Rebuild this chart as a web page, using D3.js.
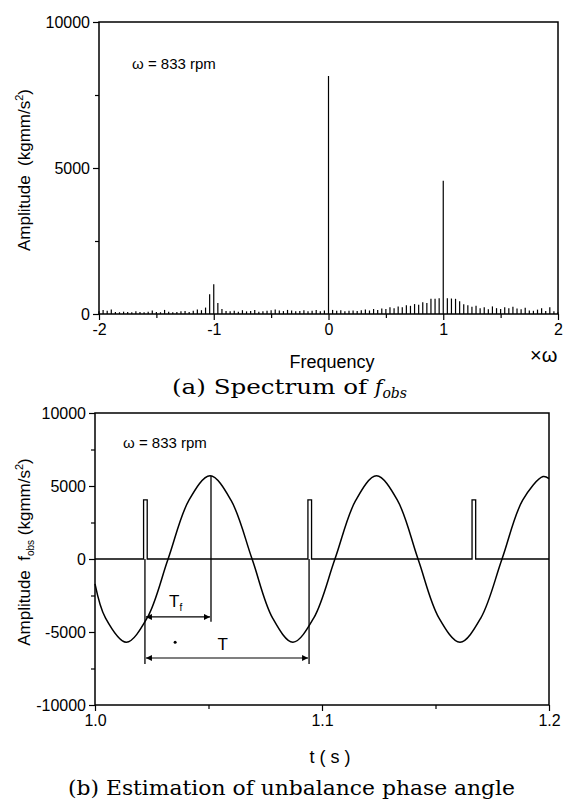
<!DOCTYPE html>
<html>
<head>
<meta charset="utf-8">
<script src="https://cdn.jsdelivr.net/npm/d3@7"></script>
<style>
body { margin: 0; background: #fff; }
text { font-family: "Liberation Sans", Arial, sans-serif; fill: #000; white-space: pre; }
.cap { font-family: "DejaVu Serif", "Liberation Serif", serif; }
</style>
</head>
<body>
<div id="fig"></div>
<script>
// (a) spectrum: bins are 1/28 of omega apart, from -2 to 2
var specStep = 1 / 28;
var specAmp = [
  90, 140, 110, 150, 70, 60, 80, 70, 60, 90, 70, 60, 80, 120,
  70, 60, 140, 80, 60, 70, 90, 100, 70, 110, 150, 130, 220, 680,
  1020, 380, 170, 100, 90, 110, 80, 130, 90, 100, 140, 80, 90, 110,
  130, 150, 120, 100, 140, 120, 90, 100, 130, 90, 110, 140, 90, 120,
  8150,
  140, 110, 130, 90, 110, 120, 100, 130, 150, 120, 170, 140, 190, 170,
  230, 200, 260, 230, 300, 280, 340, 320, 400, 380, 520, 520, 540, 4560,
  540, 530, 520, 440, 330, 300, 250, 280, 200, 230, 160, 260, 200, 170,
  230, 200, 250, 190, 160, 210, 120, 110, 150, 200, 100, 230, 90, 60
];
var freqTicks = [-2, -1, 0, 1, 2];
var freqMinor = [-1.5, -0.5, 0.5, 1.5];
var specYTicks = [0, 5000, 10000];
var specYMinor = [2500, 7500];

// (b) time trace
var sineT = [1.0000, 1.0046, 1.0138, 1.0230, 1.0322, 1.0414, 1.0507, 1.0599,
  1.0692, 1.0782, 1.0872, 1.0964, 1.1057, 1.1149, 1.1240, 1.1332, 1.1423,
  1.1515, 1.1608, 1.1700, 1.1793, 1.1884, 1.1974, 1.2000];
var sineV = [-1700, -4030, -5700, -4030, 0, 4030, 5700, 4030,
  0, -4030, -5700, -4030, 0, 4030, 5700, 4030, 0,
  -4030, -5700, -4030, 0, 4030, 5650, 5500];
var pulseStart = [1.0214, 1.0938, 1.1661];
var pulseEnd = [1.0230, 1.0954, 1.1677];
var pulseTop = 4050;
var markT = [1.0220, 1.0511, 1.0943];
var markTop = [0, 5700, 0];
var markBottom = [-7200, -4300, -7200];
var timeTicks = [1.0, 1.1, 1.2];
var timeMinor = [1.05, 1.15];
var ampTicks = [-10000, -5000, 0, 5000, 10000];
var ampMinor = [-7500, -2500, 2500, 7500];

var W = 563, H = 805;
var svg = d3.select('#fig').append('svg').attr('width', W).attr('height', H);

var defs = svg.append('defs');
['s', 'e'].forEach(function(k) {
  defs.append('marker').attr('id', 'arr' + k)
    .attr('viewBox', '0 0 10 10').attr('refX', k == 'e' ? 10 : 0).attr('refY', 5)
    .attr('markerWidth', 8).attr('markerHeight', 6).attr('orient', 'auto')
    .attr('markerUnits', 'userSpaceOnUse')
    .append('path')
    .attr('d', k == 'e' ? 'M0,0 L10,5 L0,10 z' : 'M10,0 L0,5 L10,10 z')
    .attr('fill', '#000');
});

// plain hyphen minus like the original print
var intFmt = d => String(Math.round(d));
var oneFmt = d => d.toFixed(1);

function styleAxis(g) {
  g.select('.domain').remove();
  g.selectAll('line').attr('stroke', '#000').attr('stroke-width', 1.2);
  g.selectAll('text').style('font-size', '16px').style('font-family', '"Liberation Sans", Arial, sans-serif');
}

// ---------- (a) spectrum ----------
var x1 = d3.scaleLinear().domain([-2, 2]).range([99, 558]);
var y1 = d3.scaleLinear().domain([0, 10000]).range([314, 22]);

var g1 = svg.append('g');
g1.selectAll('line.bar').data(specAmp).enter().append('line')
  .attr('class', 'bar')
  .attr('x1', (d, i) => x1(-2 + i * specStep))
  .attr('x2', (d, i) => x1(-2 + i * specStep))
  .attr('y1', y1(0))
  .attr('y2', d => y1(d))
  .attr('stroke', '#000').attr('stroke-width', 1.2);

g1.append('g').attr('transform', 'translate(0,' + y1(0) + ')')
  .call(d3.axisBottom(x1).tickValues(freqTicks).tickSize(6).tickPadding(4).tickFormat(intFmt))
  .call(styleAxis);
g1.append('g').attr('transform', 'translate(0,' + y1(0) + ')')
  .call(d3.axisBottom(x1).tickValues(freqMinor).tickSize(4).tickFormat(''))
  .call(styleAxis);
g1.append('g').attr('transform', 'translate(' + x1(-2) + ',0)')
  .call(d3.axisLeft(y1).tickValues(specYTicks).tickSize(6).tickPadding(3).tickFormat(intFmt))
  .call(styleAxis);
g1.append('g').attr('transform', 'translate(' + x1(-2) + ',0)')
  .call(d3.axisLeft(y1).tickValues(specYMinor).tickSize(4).tickFormat(''))
  .call(styleAxis);

g1.append('rect').attr('x', x1(-2)).attr('y', y1(10000))
  .attr('width', x1(2) - x1(-2)).attr('height', y1(0) - y1(10000))
  .attr('fill', 'none').attr('stroke', '#000').attr('stroke-width', 1.5);

g1.append('text').attr('x', 132).attr('y', 69).style('font-size', '15px').text('ω = 833 rpm');
g1.append('text').attr('x', 332).attr('y', 368).attr('text-anchor', 'middle')
  .style('font-size', '18px').text('Frequency');
g1.append('text').attr('x', 530).attr('y', 362).style('font-size', '20px')
  .text('×ω');
var yl1 = g1.append('text').attr('transform', 'translate(30,' + 170 + ') rotate(-90)')
  .attr('text-anchor', 'middle').style('font-size', '17px');
yl1.append('tspan').text('Amplitude  (kgmm/s');
yl1.append('tspan').attr('dy', -7).style('font-size', '11px').text('2');
yl1.append('tspan').attr('dy', 7).text(')');

var c1 = svg.append('text').attr('class', 'cap').attr('x', 172).attr('y', 394).style('font-size', '20px');
c1.append('tspan').attr('textLength', 203).attr('lengthAdjust', 'spacingAndGlyphs').text('(a) Spectrum of ');
c1.append('tspan').style('font-style', 'italic').text('f');
c1.append('tspan').attr('dy', 4).style('font-style', 'italic').style('font-size', '14px').text('obs');

// ---------- (b) time trace ----------
var x2 = d3.scaleLinear().domain([1.0, 1.2]).range([95, 549]);
var y2 = d3.scaleLinear().domain([-10000, 10000]).range([705, 413]);

var g2 = svg.append('g');

// pulse train on zero baseline
var pulsePts = [[1.0, 0]];
pulseStart.forEach(function(s, i) {
  pulsePts.push([s, 0], [s, pulseTop], [pulseEnd[i], pulseTop], [pulseEnd[i], 0]);
});
pulsePts.push([1.2, 0]);
g2.append('path').datum(pulsePts)
  .attr('d', d3.line().x(d => x2(d[0])).y(d => y2(d[1])))
  .attr('fill', 'none').attr('stroke', '#000').attr('stroke-width', 1.3);

g2.append('path').datum(sineT.map((t, i) => [t, sineV[i]]))
  .attr('d', d3.line().x(d => x2(d[0])).y(d => y2(d[1])).curve(d3.curveCatmullRom))
  .attr('fill', 'none').attr('stroke', '#000').attr('stroke-width', 1.5);

g2.selectAll('line.mark').data(markT).enter().append('line')
  .attr('class', 'mark')
  .attr('x1', d => x2(d)).attr('x2', d => x2(d))
  .attr('y1', (d, i) => y2(markTop[i])).attr('y2', (d, i) => y2(markBottom[i]))
  .attr('stroke', '#000').attr('stroke-width', 1.3);

// Tf and T arrows
var arrows = [[markT[0], markT[1], -3970], [markT[0], markT[2], -6780]];
g2.selectAll('line.arr').data(arrows).enter().append('line')
  .attr('class', 'arr')
  .attr('x1', d => x2(d[0]) + 1).attr('x2', d => x2(d[1]) - 1)
  .attr('y1', d => y2(d[2])).attr('y2', d => y2(d[2]))
  .attr('stroke', '#000').attr('stroke-width', 1.2)
  .attr('marker-start', 'url(#arrs)').attr('marker-end', 'url(#arre)');

var tf = g2.append('text').attr('x', x2(1.0355)).attr('y', y2(-2800) + 7)
  .attr('text-anchor', 'middle').style('font-size', '17px');
tf.append('tspan').text('T');
tf.append('tspan').attr('dy', 4).style('font-size', '10px').text('f');
g2.append('text').attr('x', x2(1.0563)).attr('y', y2(-5750) + 7)
  .attr('text-anchor', 'middle').style('font-size', '17px').text('T');
g2.append('circle').attr('cx', x2(1.0353)).attr('cy', y2(-5700)).attr('r', 1.5).attr('fill', '#000');

g2.append('g').attr('transform', 'translate(0,' + y2(-10000) + ')')
  .call(d3.axisBottom(x2).tickValues(timeTicks).tickSize(6).tickPadding(4).tickFormat(oneFmt))
  .call(styleAxis);
g2.append('g').attr('transform', 'translate(0,' + y2(-10000) + ')')
  .call(d3.axisBottom(x2).tickValues(timeMinor).tickSize(4).tickFormat(''))
  .call(styleAxis);
g2.append('g').attr('transform', 'translate(' + x2(1.0) + ',0)')
  .call(d3.axisLeft(y2).tickValues(ampTicks).tickSize(6).tickPadding(3).tickFormat(intFmt))
  .call(styleAxis);
g2.append('g').attr('transform', 'translate(' + x2(1.0) + ',0)')
  .call(d3.axisLeft(y2).tickValues(ampMinor).tickSize(4).tickFormat(''))
  .call(styleAxis);

g2.append('rect').attr('x', x2(1.0)).attr('y', y2(10000))
  .attr('width', x2(1.2) - x2(1.0)).attr('height', y2(-10000) - y2(10000))
  .attr('fill', 'none').attr('stroke', '#000').attr('stroke-width', 1.5);

g2.append('text').attr('x', 123).attr('y', 448).style('font-size', '15px').text('ω = 833 rpm');
g2.append('text').attr('x', 330).attr('y', 763).attr('text-anchor', 'middle')
  .style('font-size', '18px').text('t ( s )');
var yl2 = g2.append('text').attr('transform', 'translate(30,' + 552 + ') rotate(-90)')
  .attr('text-anchor', 'middle').style('font-size', '17px');
yl2.append('tspan').text('Amplitude  f');
yl2.append('tspan').attr('dy', 4).style('font-size', '10px').text('obs');
yl2.append('tspan').attr('dy', -4).text(' (kgmm/s');
yl2.append('tspan').attr('dy', -7).style('font-size', '11px').text('2');
yl2.append('tspan').attr('dy', 7).text(')');

svg.append('text').attr('class', 'cap').attr('x', 68).attr('y', 795).style('font-size', '20px')
  .attr('textLength', 447).attr('lengthAdjust', 'spacingAndGlyphs')
  .text('(b) Estimation of unbalance phase angle');
</script>
</body>
</html>
